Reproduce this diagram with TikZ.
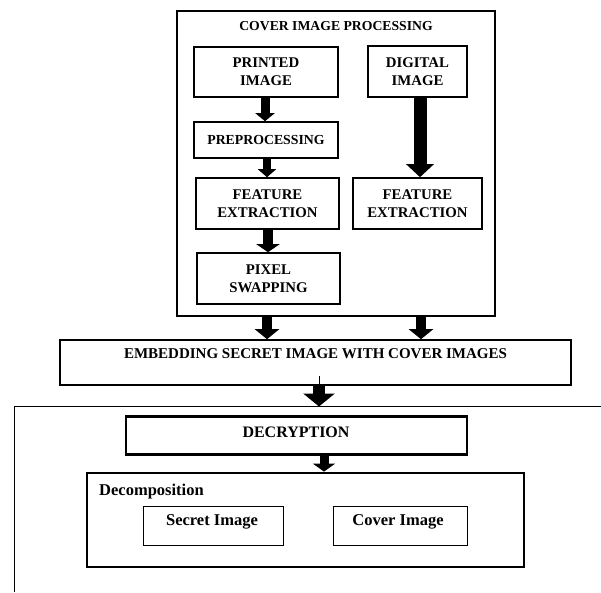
\documentclass[tikz,border=0pt]{standalone}
\usepackage{fontspec}
\setmainfont{Liberation Serif}
\usetikzlibrary{arrows.meta}
\tikzset{
  box/.style={draw=black, line width=1.6pt, rectangle, inner sep=0pt, align=center,
    font=\fontsize{14.8}{18}\selectfont\bfseries},
  thickbox/.style={draw=black, line width=2.8pt, rectangle, inner sep=0pt},
  thinbox/.style={draw=black, line width=1pt, rectangle, inner sep=0pt},
  lbl/.style={inner sep=0pt, align=center, font=\fontsize{15}{18}\selectfont\bfseries},
  lowlbl/.style={inner sep=0pt, align=center, font=\fontsize{16.5}{19}\selectfont\bfseries},
  blk/.style={draw=black, line width=#1},
}
\begin{document}
\begin{tikzpicture}[x=1pt, y=-1pt]
\useasboundingbox (0,0) rectangle (601,592);
% top group
\node[box, minimum width=318pt, minimum height=305pt] (cover) at (336,163.5) {};
\node[lbl, font=\fontsize{13.7}{15}\selectfont\bfseries] (covertitle) at (336,26) {COVER IMAGE PROCESSING};
\node[box, minimum width=144pt, minimum height=50pt] (printed) at (266,72) {PRINTED\\IMAGE};
\node[box, minimum width=99pt, minimum height=51pt] (digital) at (417.5,71.5) {DIGITAL\\IMAGE};
\node[box, minimum width=144pt, minimum height=36pt] (preproc) at (266,140) {\fontsize{13.8}{16}\selectfont PREPROCESSING};
\node[box, minimum width=143pt, minimum height=51pt] (fea) at (267.5,203.5) {FEATURE\\EXTRACTION};
\node[box, minimum width=129pt, minimum height=51pt] (feb) at (417.5,203.5) {FEATURE\\EXTRACTION};
\node[box, minimum width=143pt, minimum height=51pt] (pixel) at (268.5,278.5) {PIXEL\\SWAPPING};
% embedding
\node[box, minimum width=511pt, minimum height=45pt] (embed) at (315.5,362.5) {};
\node[lbl] (embedtxt) at (315.5,354) {EMBEDDING SECRET IMAGE WITH COVER IMAGES};
% bottom open frame
\coordinate (bl) at (14.5,592);
\coordinate (btl) at (14.5,406.5);
\coordinate (btr) at (601,406.5);
\draw[line width=1.8pt] (btr) -- (btl) -- (bl);
\coordinate (btarrow) at (319,406.5);
% decryption
\node[thickbox, minimum width=341pt, minimum height=38pt] (decrypt) at (296.5,435.5) {};
\node[lbl, font=\fontsize{16}{18}\selectfont\bfseries] (decrypttxt) at (296,432) {DECRYPTION};
\node[thickbox, minimum width=437pt, minimum height=94pt] (decomp) at (305.5,520) {};
\node[lowlbl, anchor=west] (decomptxt) at (99,491.5) {Decomposition};
\node[thinbox, minimum width=140pt, minimum height=39pt] (secret) at (213,525.5) {};
\node[lowlbl] (secrettxt) at (212,521.5) {Secret Image};
\node[thinbox, minimum width=134pt, minimum height=39pt] (coverimg) at (400,525.5) {};
\node[lowlbl] (coverimgtxt) at (398,521.5) {Cover Image};
% arrows
\draw[blk=9pt, -{Triangle[width=19pt,length=8pt]}] (printed.south -| 265,0) -- (preproc.north -| 265,0);
\draw[blk=8pt, -{Triangle[width=18pt,length=8pt]}] (preproc.south -| 267,0) -- (fea.north -| 267,0);
\draw[blk=10pt, -{Triangle[width=23pt,length=8pt]}] (fea.south -| 268,0) -- (pixel.north -| 268,0);
\draw[blk=13pt, -{Triangle[width=27pt,length=13pt]}] (digital.south -| 420,0) -- (feb.north -| 420,0);
\draw[blk=10pt, -{Triangle[width=24pt,length=10pt]}] (cover.south -| 267,0) -- (embed.north -| 267,0);
\draw[blk=10pt, -{Triangle[width=24pt,length=10pt]}] (cover.south -| 421,0) -- (embed.north -| 421,0);
\draw[line width=1pt] (319,376) -- (embed.south -| 319,0);
\draw[blk=12pt, -{Triangle[width=31pt,length=13pt]}] (embed.south -| 319,0) -- (btarrow);
\draw[blk=9pt, -{Triangle[width=22pt,length=8pt]}] (decrypt.south -| 324,0) -- (decomp.north -| 324,0);
\end{tikzpicture}
\end{document}
